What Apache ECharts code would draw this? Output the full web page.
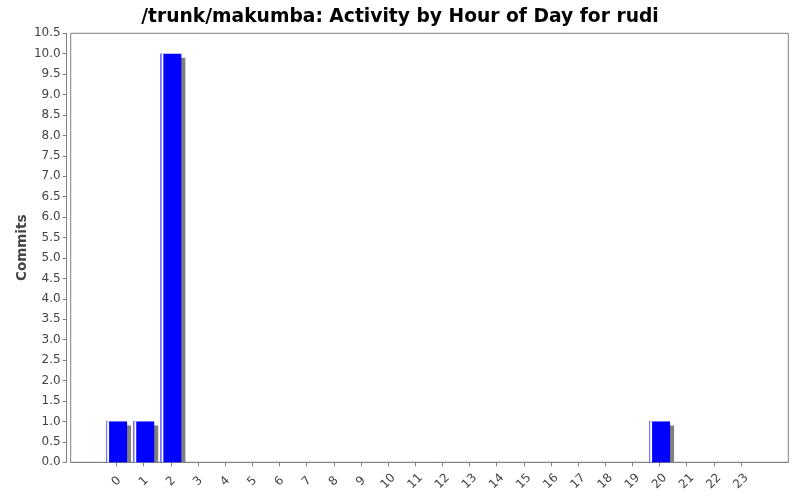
<!DOCTYPE html>
<html><head><meta charset="utf-8">
<script src="https://cdn.jsdelivr.net/npm/echarts@6/dist/echarts.min.js"></script>
<style>html,body{margin:0;padding:0;background:#fff}#c{width:800px;height:500px}</style>
</head><body><div id="c"></div>
<script>
var titleText = '/trunk/makumba: Activity by Hour of Day for rudi';
var yAxisName = 'Commits';
var hours = ['0','1','2','3','4','5','6','7','8','9','10','11','12','13','14','15','16','17','18','19','20','21','22','23'];
var commits = [1,1,10,0,0,0,0,0,0,0,0,0,0,0,0,0,0,0,0,0,1,0,0,0];
var yMin = 0, yMax = 10.5, yStep = 0.5;

var BAR_W = 21, SHADOW = 4;
function renderBar(params, api) {
  var v = api.value(1);
  if (!v) return null;
  var top = api.coord([api.value(0), v]);
  var base = api.coord([api.value(0), 0]);
  var x = top[0] - BAR_W / 2, y = top[1], h = base[1] - top[1];
  return {
    type: 'group',
    children: [
      {type: 'rect', shape: {x: x + SHADOW, y: y + SHADOW, width: BAR_W, height: Math.max(0, h - SHADOW)}, style: {fill: '#808080'}},
      {type: 'rect', shape: {x: x, y: y, width: BAR_W, height: h}, style: {fill: '#0000ff'}},
      {type: 'rect', shape: {x: x + 1, y: y, width: 2, height: h}, style: {fill: '#ffffff'}},
      {type: 'rect', shape: {x: x, y: y, width: 1, height: h}, style: {fill: '#8080ff'}}
    ]
  };
}

var chart = echarts.init(document.getElementById('c'), null, {renderer:'canvas'});
var font = 'DejaVu Sans';
chart.setOption({
  animation: false,
  backgroundColor: '#fff',
  title: {
    text: titleText, left: 'center', top: 3,
    textStyle: {fontFamily: font, fontSize: 18.7, fontWeight: 'bold', color: '#000'}
  },
  grid: [
    {left: 70.7, right: 11.7, top: 33.3, bottom: 37.7, show: true, borderColor: '#808080', borderWidth: 1, backgroundColor: '#fff'},
    {left: 103, right: 45.4, top: 33.3, bottom: 37.7}
  ],
  xAxis: [
    {gridIndex: 0, type: 'category', data: hours, offset: 4,
     axisLine: {show: true, lineStyle: {color: '#808080'}},
     axisTick: {show: false}, axisLabel: {show: false}, splitLine: {show: false}},
    {gridIndex: 1, type: 'category', data: hours, offset: 4,
     axisLine: {show: false},
     axisTick: {show: true, alignWithLabel: true, length: 4, lineStyle: {color: '#808080'}},
     axisLabel: {rotate: 45, align: 'center', verticalAlign: 'middle', fontFamily: font, fontSize: 12, color: '#444', margin: 15, interval: 0},
     splitLine: {show: false}}
  ],
  yAxis: [
    {gridIndex: 0, type: 'value', min: yMin, max: yMax, interval: yStep, offset: 4,
     name: yAxisName, nameLocation: 'middle', nameGap: 37, nameRotate: 90, nameMoveOverlap: false,
     nameTextStyle: {fontFamily: font, fontSize: 13.5, fontWeight: 'bold', color: '#444'},
     axisLine: {show: true, lineStyle: {color: '#808080'}},
     axisTick: {show: true, length: 4, lineStyle: {color: '#808080'}},
     axisLabel: {fontFamily: font, fontSize: 12, color: '#444', margin: 6,
       formatter: function(v){ return v.toFixed(1); }},
     splitLine: {show: false}},
    {gridIndex: 1, type: 'value', min: yMin, max: yMax, interval: yStep, show: false, splitLine: {show: false}}
  ],
  series: [{
    type: 'custom', xAxisIndex: 1, yAxisIndex: 1,
    data: hours.map(function(h, i){ return [i, commits[i]]; }),
    encode: {x: 0, y: 1},
    renderItem: renderBar
  }]
});
</script></body></html>
